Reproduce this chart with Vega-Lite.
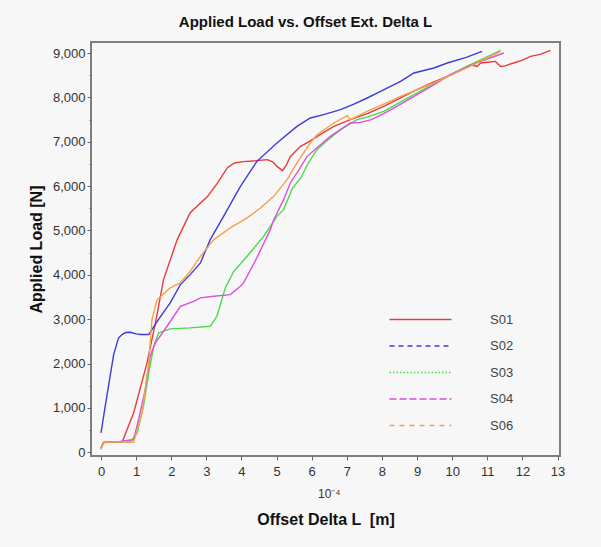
{
  "$schema": "https://vega.github.io/schema/vega-lite/v6.json",
  "width": 469,
  "height": 414,
  "autosize": {"type": "none"},
  "padding": {"left": 91, "top": 42, "right": 41, "bottom": 91},
  "background": "#f7f7f7",
  "config": {
    "view": {"stroke": "#7f7f7f", "strokeWidth": 2, "fill": "#f7f7f7"},
    "font": "Liberation Sans",
    "axis": {"grid": false, "domain": false, "tickColor": "#666666", "tickSize": 4, "labelColor": "#333333", "labelFontSize": 13, "titleFontSize": 16, "titleColor": "#111111", "titleFontWeight": "bold"}
  },
  "title": {"text": "Applied Load vs. Offset Ext. Delta L", "fontSize": 15, "fontWeight": "bold", "color": "#111111", "offset": 12, "dx": -20},
  "datasets": {
    "curves": [
      {"series": "S01", "x": 0, "load": 86}, {"series": "S01", "x": 0.07, "load": 221}, {"series": "S01", "x": 0.3, "load": 240}, {"series": "S01", "x": 0.6, "load": 228}, {"series": "S01", "x": 0.93, "load": 890}, {"series": "S01", "x": 1.31, "load": 2016}, {"series": "S01", "x": 1.55, "load": 2917}, {"series": "S01", "x": 1.69, "load": 3510}, {"series": "S01", "x": 1.78, "load": 3893}, {"series": "S01", "x": 2.17, "load": 4794}, {"series": "S01", "x": 2.54, "load": 5402}, {"series": "S01", "x": 3.03, "load": 5763}, {"series": "S01", "x": 3.3, "load": 6050}, {"series": "S01", "x": 3.6, "load": 6416}, {"series": "S01", "x": 3.8, "load": 6520}, {"series": "S01", "x": 4.05, "load": 6551}, {"series": "S01", "x": 4.4, "load": 6570}, {"series": "S01", "x": 4.74, "load": 6596}, {"series": "S01", "x": 4.9, "load": 6540}, {"series": "S01", "x": 5.02, "load": 6438}, {"series": "S01", "x": 5.17, "load": 6348}, {"series": "S01", "x": 5.28, "load": 6480}, {"series": "S01", "x": 5.39, "load": 6664}, {"series": "S01", "x": 5.68, "load": 6896}, {"series": "S01", "x": 5.88, "load": 6979}, {"series": "S01", "x": 6.33, "load": 7204}, {"series": "S01", "x": 6.63, "load": 7346}, {"series": "S01", "x": 7.1, "load": 7497}, {"series": "S01", "x": 7.6, "load": 7640}, {"series": "S01", "x": 8.05, "load": 7797}, {"series": "S01", "x": 8.5, "load": 7980}, {"series": "S01", "x": 9.0, "load": 8173}, {"series": "S01", "x": 9.43, "load": 8330}, {"series": "S01", "x": 9.86, "load": 8473}, {"series": "S01", "x": 10.2, "load": 8600}, {"series": "S01", "x": 10.52, "load": 8736}, {"series": "S01", "x": 10.71, "load": 8698}, {"series": "S01", "x": 10.81, "load": 8775}, {"series": "S01", "x": 11.0, "load": 8790}, {"series": "S01", "x": 11.23, "load": 8811}, {"series": "S01", "x": 11.38, "load": 8698}, {"series": "S01", "x": 11.5, "load": 8710}, {"series": "S01", "x": 11.75, "load": 8775}, {"series": "S01", "x": 12.0, "load": 8840}, {"series": "S01", "x": 12.23, "load": 8923}, {"series": "S01", "x": 12.5, "load": 8970}, {"series": "S01", "x": 12.8, "load": 9058},
      {"series": "S02", "x": 0, "load": 439}, {"series": "S02", "x": 0.12, "load": 1039}, {"series": "S02", "x": 0.36, "load": 2203}, {"series": "S02", "x": 0.5, "load": 2579}, {"series": "S02", "x": 0.6, "load": 2654}, {"series": "S02", "x": 0.7, "load": 2700}, {"series": "S02", "x": 0.83, "load": 2706}, {"series": "S02", "x": 1.0, "load": 2670}, {"series": "S02", "x": 1.12, "load": 2654}, {"series": "S02", "x": 1.36, "load": 2654}, {"series": "S02", "x": 1.6, "load": 2953}, {"series": "S02", "x": 1.97, "load": 3368}, {"series": "S02", "x": 2.26, "load": 3780}, {"series": "S02", "x": 2.54, "load": 4005}, {"series": "S02", "x": 2.83, "load": 4269}, {"series": "S02", "x": 3.11, "load": 4794}, {"series": "S02", "x": 3.49, "load": 5319}, {"series": "S02", "x": 3.97, "load": 5995}, {"series": "S02", "x": 4.44, "load": 6558}, {"series": "S02", "x": 5.01, "load": 6972}, {"series": "S02", "x": 5.58, "load": 7346}, {"series": "S02", "x": 5.96, "load": 7535}, {"series": "S02", "x": 6.34, "load": 7610}, {"series": "S02", "x": 6.82, "load": 7723}, {"series": "S02", "x": 7.2, "load": 7850}, {"series": "S02", "x": 7.58, "load": 7986}, {"series": "S02", "x": 7.96, "load": 8135}, {"series": "S02", "x": 8.53, "load": 8360}, {"series": "S02", "x": 8.91, "load": 8549}, {"series": "S02", "x": 9.48, "load": 8662}, {"series": "S02", "x": 9.86, "load": 8774}, {"series": "S02", "x": 10.4, "load": 8900}, {"series": "S02", "x": 10.85, "load": 9036},
      {"series": "S03", "x": 0, "load": 86}, {"series": "S03", "x": 0.07, "load": 221}, {"series": "S03", "x": 0.5, "load": 240}, {"series": "S03", "x": 0.83, "load": 228}, {"series": "S03", "x": 1.03, "load": 439}, {"series": "S03", "x": 1.21, "load": 1039}, {"series": "S03", "x": 1.36, "load": 1791}, {"series": "S03", "x": 1.5, "load": 2390}, {"series": "S03", "x": 1.64, "load": 2692}, {"series": "S03", "x": 1.97, "load": 2782}, {"series": "S03", "x": 2.54, "load": 2805}, {"series": "S03", "x": 3.11, "load": 2841}, {"series": "S03", "x": 3.3, "load": 3066}, {"series": "S03", "x": 3.54, "load": 3706}, {"series": "S03", "x": 3.78, "load": 4080}, {"series": "S03", "x": 4.16, "load": 4418}, {"series": "S03", "x": 4.63, "load": 4868}, {"series": "S03", "x": 5.01, "load": 5319}, {"series": "S03", "x": 5.2, "load": 5470}, {"series": "S03", "x": 5.45, "load": 5950}, {"series": "S03", "x": 5.7, "load": 6200}, {"series": "S03", "x": 5.9, "load": 6520}, {"series": "S03", "x": 6.15, "load": 6821}, {"series": "S03", "x": 6.4, "load": 7000}, {"series": "S03", "x": 6.82, "load": 7272}, {"series": "S03", "x": 7.29, "load": 7497}, {"series": "S03", "x": 7.6, "load": 7560}, {"series": "S03", "x": 8.05, "load": 7684}, {"series": "S03", "x": 8.5, "load": 7880}, {"series": "S03", "x": 9.0, "load": 8099}, {"series": "S03", "x": 9.5, "load": 8310}, {"series": "S03", "x": 9.95, "load": 8511}, {"series": "S03", "x": 10.33, "load": 8662}, {"series": "S03", "x": 10.9, "load": 8880}, {"series": "S03", "x": 11.38, "load": 9058},
      {"series": "S04", "x": 0, "load": 86}, {"series": "S04", "x": 0.07, "load": 221}, {"series": "S04", "x": 0.5, "load": 240}, {"series": "S04", "x": 0.93, "load": 288}, {"series": "S04", "x": 1.07, "load": 739}, {"series": "S04", "x": 1.26, "load": 1415}, {"series": "S04", "x": 1.4, "load": 2165}, {"series": "S04", "x": 1.55, "load": 2467}, {"series": "S04", "x": 1.88, "load": 2841}, {"series": "S04", "x": 2.26, "load": 3291}, {"series": "S04", "x": 2.64, "load": 3404}, {"series": "S04", "x": 2.83, "load": 3481}, {"series": "S04", "x": 3.21, "load": 3517}, {"series": "S04", "x": 3.68, "load": 3555}, {"series": "S04", "x": 3.97, "load": 3742}, {"series": "S04", "x": 4.06, "load": 3818}, {"series": "S04", "x": 4.44, "load": 4388}, {"series": "S04", "x": 4.82, "load": 5019}, {"series": "S04", "x": 4.92, "load": 5244}, {"series": "S04", "x": 5.2, "load": 5695}, {"series": "S04", "x": 5.39, "load": 6071}, {"series": "S04", "x": 5.58, "load": 6297}, {"series": "S04", "x": 5.87, "load": 6671}, {"series": "S04", "x": 6.2, "load": 6900}, {"series": "S04", "x": 6.53, "load": 7121}, {"series": "S04", "x": 7.1, "load": 7423}, {"series": "S04", "x": 7.39, "load": 7436}, {"series": "S04", "x": 7.7, "load": 7500}, {"series": "S04", "x": 8.05, "load": 7632}, {"series": "S04", "x": 8.5, "load": 7830}, {"series": "S04", "x": 9.0, "load": 8060}, {"series": "S04", "x": 9.5, "load": 8290}, {"series": "S04", "x": 9.95, "load": 8511}, {"series": "S04", "x": 10.7, "load": 8780}, {"series": "S04", "x": 11.47, "load": 9000},
      {"series": "S06", "x": 0, "load": 63}, {"series": "S06", "x": 0.07, "load": 221}, {"series": "S06", "x": 0.5, "load": 240}, {"series": "S06", "x": 0.93, "load": 228}, {"series": "S06", "x": 1.17, "load": 890}, {"series": "S06", "x": 1.36, "load": 2016}, {"series": "S06", "x": 1.45, "load": 2992}, {"series": "S06", "x": 1.6, "load": 3442}, {"series": "S06", "x": 1.97, "load": 3706}, {"series": "S06", "x": 2.26, "load": 3818}, {"series": "S06", "x": 2.54, "load": 4080}, {"series": "S06", "x": 2.83, "load": 4418}, {"series": "S06", "x": 3.21, "load": 4794}, {"series": "S06", "x": 3.68, "load": 5057}, {"series": "S06", "x": 4.16, "load": 5283}, {"series": "S06", "x": 4.54, "load": 5508}, {"series": "S06", "x": 4.92, "load": 5769}, {"series": "S06", "x": 5.3, "load": 6146}, {"series": "S06", "x": 5.58, "load": 6522}, {"series": "S06", "x": 5.96, "load": 6972}, {"series": "S06", "x": 6.15, "load": 7159}, {"series": "S06", "x": 6.63, "load": 7423}, {"series": "S06", "x": 7.01, "load": 7587}, {"series": "S06", "x": 7.1, "load": 7497}, {"series": "S06", "x": 7.58, "load": 7684}, {"series": "S06", "x": 8.05, "load": 7850}, {"series": "S06", "x": 8.53, "load": 8022}, {"series": "S06", "x": 9.48, "load": 8324}, {"series": "S06", "x": 10.43, "load": 8669}, {"series": "S06", "x": 11.38, "load": 9036}
    ],
    "exponent": [{"label": "10⁻⁴", "x": 6.5, "load": -950}]
  },
  "layer": [
    {
      "data": {"name": "curves"},
      "mark": {"type": "line", "strokeWidth": 1.4, "clip": true},
      "encoding": {
        "x": {
          "field": "x", "type": "quantitative",
          "scale": {"domain": [-0.285, 13.07], "nice": false, "zero": false},
          "axis": {"values": [0, 1, 2, 3, 4, 5, 6, 7, 8, 9, 10, 11, 12, 13], "format": "d", "title": "Offset Delta L \u00a0[m]", "titlePadding": 33, "labelPadding": 5}
        },
        "y": {
          "field": "load", "type": "quantitative",
          "scale": {"domain": [-83, 9248], "nice": false},
          "axis": {
            "values": [0, 500, 1000, 1500, 2000, 2500, 3000, 3500, 4000, 4500, 5000, 5500, 6000, 6500, 7000, 7500, 8000, 8500, 9000],
            "labelExpr": "datum.value % 1000 === 0 ? format(datum.value, ',') : ''",
            "tickSize": {"condition": {"test": "datum.value % 1000 !== 0", "value": 2}, "value": 4},
            "title": "Applied Load [N]", "titlePadding": 8
          }
        },
        "color": {
          "field": "series", "type": "nominal",
          "scale": {"domain": ["S01", "S02", "S03", "S04", "S06"], "range": ["#e83c3c", "#3c3cdc", "#45dc45", "#e04ee0", "#f5a04b"]},
          "legend": {
            "title": null, "orient": "none", "legendX": 323, "legendY": 271,
            "symbolType": "M-6.2,0H6.2", "symbolSize": 100, "symbolStrokeWidth": 1.6,
            "labelFontSize": 13, "labelColor": "#444444", "labelOffset": 63, "rowPadding": 12.5, "padding": 0,
            "encode": {"symbols": {"update": {"strokeDash": {"signal": "datum.value === 'S01' ? [1, 0] : datum.value === 'S02' ? [5, 4] : datum.value === 'S03' ? [1.5, 2] : datum.value === 'S04' ? [7, 3] : [5, 5]"}}}}
          }
        }
      }
    },
    {
      "data": {"name": "exponent"},
      "mark": {"type": "text", "fontSize": 12, "color": "#333333", "baseline": "middle", "align": "center"},
      "encoding": {
        "x": {
          "field": "x", "type": "quantitative",
          "scale": {"domain": [-0.285, 13.07], "nice": false, "zero": false},
          "axis": {"values": [0, 1, 2, 3, 4, 5, 6, 7, 8, 9, 10, 11, 12, 13], "format": "d", "title": "Offset Delta L \u00a0[m]", "titlePadding": 33, "labelPadding": 5}
        },
        "y": {
          "field": "load", "type": "quantitative",
          "scale": {"domain": [-83, 9248], "nice": false},
          "axis": {
            "values": [0, 500, 1000, 1500, 2000, 2500, 3000, 3500, 4000, 4500, 5000, 5500, 6000, 6500, 7000, 7500, 8000, 8500, 9000],
            "labelExpr": "datum.value % 1000 === 0 ? format(datum.value, ',') : ''",
            "tickSize": {"condition": {"test": "datum.value % 1000 !== 0", "value": 2}, "value": 4},
            "title": "Applied Load [N]", "titlePadding": 8
          }
        },
        "text": {"field": "label"}
      }
    }
  ]
}
